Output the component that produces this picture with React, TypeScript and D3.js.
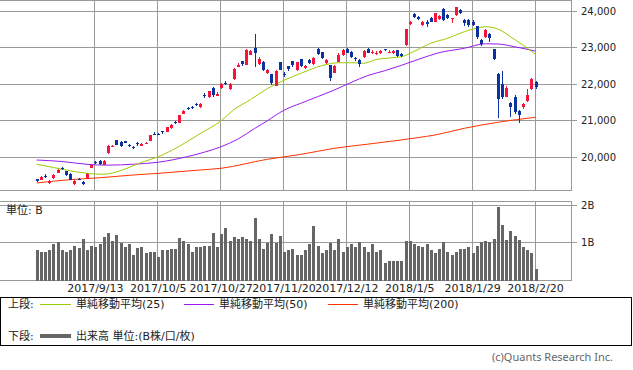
import * as d3 from "d3";

// Nikkei-style daily candles + MAs (top) and volume (bottom), Aug 2017 – Feb 2018.

const dates = [
  "2017/8/24", "2017/8/25", "2017/8/28", "2017/8/29", "2017/8/30", "2017/8/31",
  "2017/9/1", "2017/9/4", "2017/9/5", "2017/9/6", "2017/9/7", "2017/9/8", "2017/9/11", "2017/9/12",
  "2017/9/13", "2017/9/14", "2017/9/15", "2017/9/19", "2017/9/20", "2017/9/21", "2017/9/22",
  "2017/9/25", "2017/9/26", "2017/9/27", "2017/9/28", "2017/9/29",
  "2017/10/2", "2017/10/3", "2017/10/4", "2017/10/5", "2017/10/6", "2017/10/10", "2017/10/11",
  "2017/10/12", "2017/10/13", "2017/10/16", "2017/10/17", "2017/10/18", "2017/10/19", "2017/10/20",
  "2017/10/23", "2017/10/24", "2017/10/25", "2017/10/26", "2017/10/27", "2017/10/30", "2017/10/31",
  "2017/11/1", "2017/11/2", "2017/11/6", "2017/11/7", "2017/11/8", "2017/11/9", "2017/11/10",
  "2017/11/13", "2017/11/14", "2017/11/15", "2017/11/16", "2017/11/17", "2017/11/20", "2017/11/21",
  "2017/11/22", "2017/11/24", "2017/11/27", "2017/11/28", "2017/11/29", "2017/11/30",
  "2017/12/1", "2017/12/4", "2017/12/5", "2017/12/6", "2017/12/7", "2017/12/8", "2017/12/11",
  "2017/12/12", "2017/12/13", "2017/12/14", "2017/12/15", "2017/12/18", "2017/12/19", "2017/12/20",
  "2017/12/21", "2017/12/22", "2017/12/25", "2017/12/26", "2017/12/27", "2017/12/28", "2017/12/29",
  "2018/1/4", "2018/1/5", "2018/1/9", "2018/1/10", "2018/1/11", "2018/1/12", "2018/1/15",
  "2018/1/16", "2018/1/17", "2018/1/18", "2018/1/19", "2018/1/22", "2018/1/23", "2018/1/24",
  "2018/1/25", "2018/1/26", "2018/1/29", "2018/1/30", "2018/1/31",
  "2018/2/1", "2018/2/2", "2018/2/5", "2018/2/6", "2018/2/7", "2018/2/8", "2018/2/9",
  "2018/2/13", "2018/2/14", "2018/2/15", "2018/2/16", "2018/2/19", "2018/2/20",
];

const opens = [
  19395, 19380, 19500, 19300, 19430, 19580, 19705, 19620, 19540, 19270, 19410, 19330, 19410, 19720,
  19880, 19910, 19790, 20120, 20290, 20470, 20420, 20440, 20345, 20280, 20400, 20320,
  20385, 20450, 20650, 20645, 20720, 20700, 20800, 20970, 20950, 21190, 21350, 21375, 21465, 21380,
  21700, 21650, 21900, 21680, 21890, 22045, 21870,
  22140, 22480, 22640, 22540, 22810, 22990, 22550, 22620, 22300, 22270, 21960, 22600, 22290, 22500,
  22630, 22400, 22680, 22455, 22665, 22560,
  22975, 22880, 22575, 22520, 22320, 22610, 22800, 22980, 22890, 22710, 22660, 22740, 22960, 22850,
  22830, 22850, 22970, 22860, 22860, 22930, 22840,
  23070, 23640, 23930, 23840, 23630, 23720, 23830, 23720, 23780, 24050, 23900, 23795, 23900, 24030,
  23760, 23760, 23710, 23590, 23210,
  23290, 23370, 22960, 22280, 22000, 21660, 21500, 21660, 21270, 21370, 21540, 21865, 22070,
];
const highs = [
  19410, 19480, 19530, 19390, 19540, 19680, 19735, 19630, 19560, 19380, 19440, 19340, 19560, 19800,
  19890, 19930, 19930, 20340, 20330, 20480, 20440, 20460, 20370, 20300, 20410, 20380,
  20430, 20620, 20680, 20670, 20730, 20840, 20900, 21000, 21160, 21290, 21390, 21400, 21500, 21480,
  21760, 21820, 21920, 21780, 22030, 22080, 22030,
  22440, 22580, 22650, 22960, 22930, 23382, 22740, 22640, 22420, 22290, 22380, 22620, 22330, 22510,
  22640, 22620, 22700, 22540, 22680, 22760,
  22990, 22890, 22680, 22530, 22520, 22850, 22960, 22990, 22900, 22750, 22680, 22940, 22990, 22930,
  22910, 22930, 22980, 22940, 22940, 22940, 22870,
  23520, 23730, 23952, 23870, 23740, 23760, 23840, 23960, 23900, 24084, 23920, 23825, 24130, 24050,
  23790, 23800, 23760, 23600, 23230,
  23520, 23400, 22980, 22300, 22353, 21950, 21520, 21700, 21300, 21500, 21865, 22170, 22080,
];
const lows = [
  19320, 19370, 19420, 19280, 19400, 19560, 19640, 19480, 19370, 19240, 19370, 19240, 19400, 19700,
  19820, 19790, 19780, 20100, 20270, 20330, 20270, 20380, 20280, 20220, 20320, 20300,
  20370, 20440, 20600, 20600, 20650, 20680, 20780, 20900, 20940, 21180, 21300, 21330, 21400, 21360,
  21630, 21630, 21640, 21670, 21870, 21980, 21850,
  22130, 22470, 22500, 22520, 22790, 22465, 22530, 22370, 22280, 21970, 21940, 22380, 22210, 22370,
  22480, 22370, 22470, 22430, 22560, 22540,
  22800, 22680, 22560, 22100, 22300, 22600, 22780, 22850, 22730, 22650, 22480, 22730, 22850, 22830,
  22800, 22830, 22900, 22850, 22830, 22750, 22750,
  23050, 23620, 23820, 23760, 23600, 23580, 23700, 23700, 23760, 23740, 23780, 23680, 23880, 23920,
  23600, 23580, 23590, 23250, 23060,
  23270, 23170, 22660, 21078, 21600, 21640, 21110, 21200, 20950, 21330, 21520, 21850, 21860,
];
const closes = [
  19353, 19452, 19450, 19362, 19506, 19646, 19691, 19508, 19386, 19358, 19397, 19275, 19546, 19777,
  19866, 19807, 19910, 20299, 20310, 20347, 20296, 20398, 20330, 20267, 20363, 20356,
  20400, 20614, 20627, 20629, 20691, 20824, 20881, 20955, 21155, 21256, 21336, 21363, 21449, 21458,
  21697, 21805, 21708, 21740, 22008, 22012, 22012,
  22420, 22539, 22548, 22938, 22914, 22869, 22700, 22381, 22380, 22028, 22351, 22397, 22262, 22416,
  22523, 22600, 22496, 22510, 22597, 22725,
  22819, 22707, 22660, 22177, 22498, 22811, 22939, 22866, 22758, 22694, 22553, 22902, 22868, 22892,
  22866, 22903, 22939, 22893, 22911, 22784, 22765,
  23506, 23715, 23850, 23788, 23710, 23654, 23715, 23952, 23868, 23763, 23808, 23816, 24124, 23940,
  23669, 23632, 23629, 23292, 23098,
  23486, 23275, 22682, 21610, 21645, 21891, 21383, 21245, 21154, 21465, 21720, 22149, 21925,
];
// volume, billions of shares
const volumes = [
  0.80, 0.75, 0.75, 0.80, 0.96, 1.03, 0.82, 0.75, 0.82, 0.93, 0.86, 1.11, 0.82, 0.93,
  0.88, 0.98, 1.17, 1.26, 1.06, 1.22, 1.00, 0.88, 0.98, 0.67, 0.87, 0.90,
  0.72, 0.77, 0.77, 0.62, 0.80, 0.82, 0.85, 0.85, 1.14, 1.06, 0.96, 0.77, 0.88, 0.90,
  0.93, 0.93, 1.26, 0.88, 1.25, 1.40, 1.06,
  1.17, 1.11, 1.17, 1.11, 1.06, 1.67, 1.11, 0.85, 1.01, 1.25, 1.01, 1.19, 0.75, 0.80,
  0.85, 0.69, 0.69, 0.80, 0.96, 1.46,
  0.93, 0.72, 0.80, 1.01, 0.82, 1.11, 0.75, 0.90, 0.96, 0.90, 1.03, 0.90, 0.75, 0.96,
  0.77, 0.82, 0.46, 0.51, 0.51, 0.53, 0.51,
  1.06, 1.06, 0.98, 0.93, 0.88, 0.98, 0.80, 0.72, 0.85, 1.03, 0.75, 0.69, 0.77, 0.85,
  0.85, 0.90, 0.72, 0.93, 1.03,
  1.06, 1.03, 1.11, 1.96, 1.48, 1.09, 1.32, 1.19, 1.09, 0.90, 0.82, 0.72, 0.30,
];

const ma25Idx = [0, 4, 8, 12, 16, 19, 22, 25, 29, 34, 39, 44, 47, 51, 55, 59, 63, 68, 72, 76, 78, 81, 84, 87, 90, 94, 98, 102, 105, 107, 109, 111, 113, 116, 119];
const ma25Val = [19808, 19720, 19630, 19561, 19534, 19600, 19720, 19860, 20016, 20300, 20650, 21000, 21300, 21580, 21880, 22110, 22300, 22510, 22590, 22590, 22575, 22680, 22720, 22756, 22900, 23123, 23260, 23441, 23540, 23578, 23550, 23460, 23304, 23077, 22822];
const ma50Idx = [0, 6, 12, 17, 23, 29, 36, 40, 44, 48, 52, 55, 59, 63, 67, 71, 75, 79, 83, 87, 91, 96, 102, 107, 110, 114, 119];
const ma50Val = [19926, 19885, 19808, 19785, 19810, 19865, 20020, 20140, 20290, 20500, 20790, 21000, 21290, 21480, 21660, 21844, 22050, 22240, 22370, 22520, 22680, 22866, 22986, 23110, 23104, 23030, 22910];
const ma200Idx = [0, 7, 15, 23, 29, 39, 44, 55, 63, 71, 79, 86, 91, 95, 102, 110, 119];
const ma200Val = [19296, 19378, 19440, 19515, 19561, 19652, 19700, 19945, 20080, 20246, 20360, 20460, 20540, 20611, 20794, 20959, 21096];

const dateTicks = ["2017/9/13", "2017/10/5", "2017/10/27", "2017/11/20", "2017/12/12", "2018/1/5", "2018/1/29", "2018/2/20"];
const priceTicks = [20000, 21000, 22000, 23000, 24000];
const volTicks = [1, 2];

const W = 633;
const H = 370;
const PLOT_R = 571.5;
const FONT = "'DejaVu Sans', 'Noto Sans CJK JP', sans-serif";
const UP = "#f5143c";
const DOWN = "#0a32a0";
const GRID = "#9a9a9a";

const snap = (v: number) => Math.floor(v) + 0.5;

export default function App() {
  const x = d3.scalePoint<string>().domain(dates).range([36.7, 535.5]);
  const py = d3.scaleLinear().domain([20000, 24000]).range([157.3, 11.3]);
  const vy = d3.scaleLinear().domain([0, 2]).range([280.5, 205.3]);
  const fmt = d3.format(",");

  const maLine = (idx: number[], vals: number[]) =>
    d3
      .line<number>()
      .x((_, k) => x(dates[idx[k]]) as number)
      .y((v) => py(v))
      .curve(d3.curveMonotoneX)(vals) ?? "";

  const mas = [
    { idx: ma200Idx, val: ma200Val, color: "#ff3300" },
    { idx: ma50Idx, val: ma50Val, color: "#9a1cf0" },
    { idx: ma25Idx, val: ma25Val, color: "#9ccc00" },
  ];

  return (
    <div style={{ position: "absolute", left: 0, top: 0 }}>
      <svg width={W} height={H} style={{ display: "block", background: "#fff" }} fontFamily={FONT}>
        {/* ---- price panel ---- */}
        <g shapeRendering="crispEdges" stroke={GRID} strokeWidth={1}>
          <line x1={0} x2={PLOT_R} y1={0.5} y2={0.5} />
          <line x1={0} x2={PLOT_R} y1={190.5} y2={190.5} />
          <line x1={PLOT_R} x2={PLOT_R} y1={0} y2={191} />
          {priceTicks.map((t) => (
            <line key={t} x1={0} x2={577} y1={snap(py(t))} y2={snap(py(t))} />
          ))}
          {dateTicks.map((d) => {
            const gx = snap((x(d) as number) - 0.5);
            return (
              <g key={d}>
                <line x1={gx} x2={gx} y1={0} y2={191} />
                <line x1={gx} x2={gx} y1={201} y2={281} />
              </g>
            );
          })}
        </g>
        {priceTicks.map((t) => (
          <text key={t} x={581} y={py(t)} dy="0.35em" fontSize={10} fill="#222">
            {fmt(t)}
          </text>
        ))}

        {mas.map((m) => (
          <path key={m.color} d={maLine(m.idx, m.val)} fill="none" stroke={m.color} strokeWidth={1} />
        ))}

        <g shapeRendering="crispEdges">
          {dates.map((d, i) => {
            const cx = Math.round(x(d) as number);
            const o = opens[i];
            const c = closes[i];
            const col = c >= o ? UP : DOWN;
            const top = Math.round(py(Math.max(o, c)));
            const bot = Math.round(py(Math.min(o, c)));
            return (
              <g key={d} fill={col} stroke={col}>
                <line x1={cx + 0.5} x2={cx + 0.5} y1={py(highs[i])} y2={py(lows[i])} strokeWidth={1} />
                <rect x={cx - 1} y={top} width={3} height={Math.max(1, bot - top)} stroke="none" />
              </g>
            );
          })}
        </g>

        {/* ---- volume panel ---- */}
        <g shapeRendering="crispEdges" stroke={GRID} strokeWidth={1}>
          <line x1={0} x2={PLOT_R} y1={201.5} y2={201.5} />
          <line x1={0} x2={PLOT_R} y1={280.5} y2={280.5} />
          <line x1={PLOT_R} x2={PLOT_R} y1={201} y2={281} />
          {volTicks.map((t) => (
            <line key={t} x1={0} x2={577} y1={snap(vy(t))} y2={snap(vy(t))} />
          ))}
        </g>
        <g shapeRendering="crispEdges" fill="#666">
          {dates.map((d, i) => {
            const cx = Math.round(x(d) as number);
            return <rect key={d} x={cx - 1} y={vy(volumes[i])} width={3} height={vy(0) - vy(volumes[i])} />;
          })}
        </g>
        {volTicks.map((t) => (
          <text key={t} x={581} y={vy(t)} dy="0.35em" fontSize={10} fill="#222">
            {t}B
          </text>
        ))}
        <text x={6} y={210} dy="0.35em" fontSize={11} fill="#222">
          単位: B
        </text>

        {dateTicks.map((d) => (
          <text key={d} x={x(d) as number} y={288} dy="0.35em" fontSize={11} textAnchor="middle" fill="#222">
            {d}
          </text>
        ))}

        {/* ---- legend ---- */}
        <rect x={0.5} y={297.5} width={631} height={48} fill="none" stroke="#000" shapeRendering="crispEdges" />
        <g fontSize={11} fill="#222">
          <text x={8} y={304} dy="0.35em">上段:</text>
          <line x1={40} x2={71} y1={304.5} y2={304.5} stroke="#9ccc00" />
          <text x={76} y={304} dy="0.35em">単純移動平均(25)</text>
          <line x1={184} x2={214} y1={304.5} y2={304.5} stroke="#9a1cf0" />
          <text x={219} y={304} dy="0.35em">単純移動平均(50)</text>
          <line x1={328} x2={358} y1={304.5} y2={304.5} stroke="#ff3300" />
          <text x={363} y={304} dy="0.35em">単純移動平均(200)</text>
          <text x={8} y={336} dy="0.35em">下段:</text>
          <rect x={40} y={334} width={31} height={4} fill="#666" />
          <text x={76} y={336} dy="0.35em">出来高 単位:(B株/口/枚)</text>
        </g>
        <text x={613} y={357} dy="0.35em" fontSize={11} textAnchor="end" fill="#666" fontFamily="'Noto Sans', sans-serif">
          (c)Quants Research Inc.
        </text>
      </svg>
    </div>
  );
}
